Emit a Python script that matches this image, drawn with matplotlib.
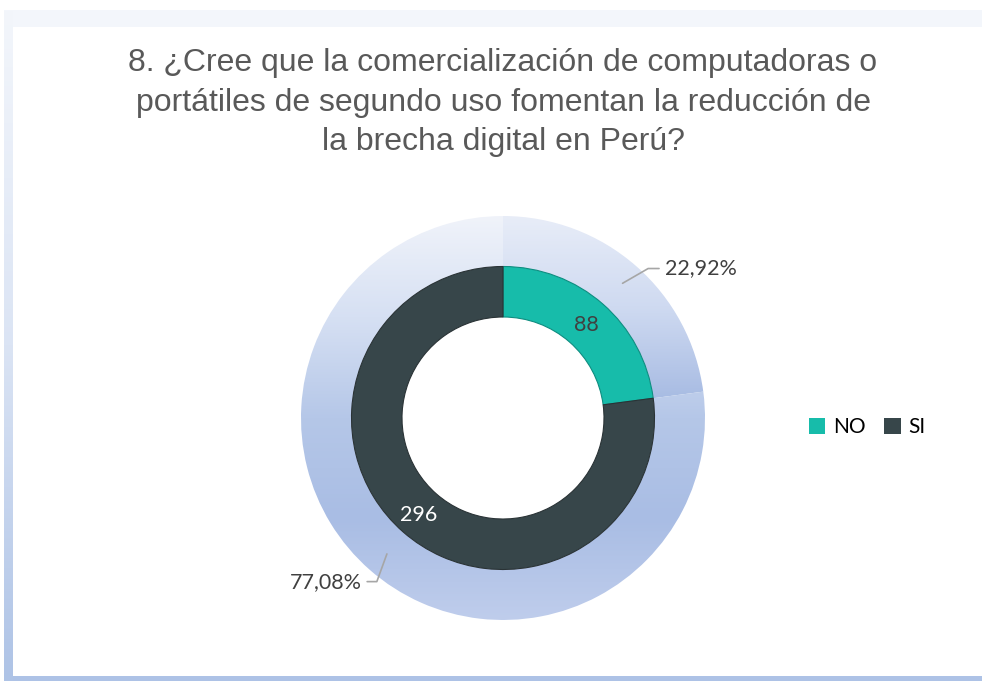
import numpy as np
import matplotlib.pyplot as plt
from matplotlib.colors import LinearSegmentedColormap
from matplotlib.patches import Rectangle, Patch

# data
categories = ["NO", "SI"]
counts = [88, 296]
percents = ["22,92%", "77,08%"]
title = ("8. ¿Cree que la comercialización de computadoras o\n"
         "portátiles de segundo uso fomentan la reducción de\n"
         "la brecha digital en Perú?")

inner_colors = ["#17bcaa", "#37464a"]
count_colors = ["#404040", "#ffffff"]

W, H = 982, 681
fig = plt.figure(figsize=(W / 100, H / 100), dpi=100)
fig.patch.set_facecolor("white")

# frame in pixel coordinates
bg = fig.add_axes([0, 0, 1, 1], zorder=0)
bg.set_xlim(0, W)
bg.set_ylim(H, 0)
bg.axis("off")
bg.add_patch(Rectangle((4, 10), W - 4, 17, color="#f3f6fb", lw=0))
bg.add_patch(Rectangle((4, 676), W - 4, 5, color="#adc2e6", lw=0))
side = LinearSegmentedColormap.from_list("side", ["#f3f6fb", "#dbe4f4", "#aec3e6"])
bg.imshow(np.linspace(0, 1, 256).reshape(-1, 1), cmap=side, aspect="auto",
          extent=[4, 13, 681, 10], zorder=1)
bg.set_xlim(0, W)
bg.set_ylim(H, 0)

fig.text(503 / W, 1 - 102.5 / H, title, ha="center", va="center",
         fontsize=23, color="#595959", family="Liberation Sans", linespacing=1.42)

# donut
cx, cy, R = 503, 418, 202
ax = fig.add_axes([(cx - R) / W, (H - cy - R) / H, 2 * R / W, 2 * R / H], zorder=2)
ax.axis("off")

outer, _ = ax.pie(counts, radius=1.0, startangle=90, counterclock=False,
                  wedgeprops=dict(width=0.25, edgecolor="none", facecolor="none"))
inner, _ = ax.pie(counts, radius=0.75, startangle=90, counterclock=False,
                  colors=inner_colors,
                  wedgeprops=dict(width=0.25, edgecolor="#2a3336", linewidth=0.8))
inner[0].set_edgecolor("#0e8d80")

grads = [
    ["#e8edf8", "#cfdaf1", "#a8bce3"],
    ["#f0f3fa", "#d6e0f3", "#b5c7e8", "#a9bde4", "#bfcdec"],
]
for w, cols in zip(outer, grads):
    cm = LinearSegmentedColormap.from_list("g", cols)
    th1, th2 = np.radians(w.theta1), np.radians(w.theta2)
    ang = np.linspace(th1, th2, 200)
    ys = np.concatenate([np.sin(ang), 0.75 * np.sin(ang)])
    im = ax.imshow(np.linspace(0, 1, 256).reshape(-1, 1), cmap=cm, aspect="auto",
                   extent=[-1, 1, ys.min(), ys.max()], zorder=0.5)
    im.set_clip_path(w)

ax.set_xlim(-1, 1)
ax.set_ylim(-1, 1)
ax.set_aspect("equal")

# count labels
label_pos = [(48, 0.62), (229, 0.635)]
for (a, r), c, col in zip(label_pos, counts, count_colors):
    t = np.radians(a)
    ax.text(r * np.cos(t), r * np.sin(t), str(c), ha="center", va="center",
            fontsize=15.5, color=col, family="Lato")

# percent labels with leader lines
ax.annotate(percents[0], xy=(0.58, 0.66), xytext=(0.80, 0.74),
            ha="left", va="center", fontsize=15.5, color="#404040", family="Lato",
            arrowprops=dict(arrowstyle="-", color="#a6a6a6", lw=1.2,
                            connectionstyle="angle,angleA=0,angleB=30,rad=0"))
ax.annotate(percents[1], xy=(-0.57, -0.66), xytext=(-0.70, -0.81),
            ha="right", va="center", fontsize=15.5, color="#404040", family="Lato",
            arrowprops=dict(arrowstyle="-", color="#a6a6a6", lw=1.2,
                            connectionstyle="angle,angleA=0,angleB=70,rad=0"))

handles = [Patch(facecolor=c, edgecolor="none") for c in inner_colors]
fig.legend(handles, categories, loc="center left", bbox_to_anchor=(790 / W, 1 - 427 / H),
           frameon=False, ncol=2, handlelength=0.8, handleheight=0.8,
           handletextpad=0.35, columnspacing=0.9, labelcolor="black",
           prop=dict(family="Lato", size=15))

fig.savefig("out.png", dpi=100)
